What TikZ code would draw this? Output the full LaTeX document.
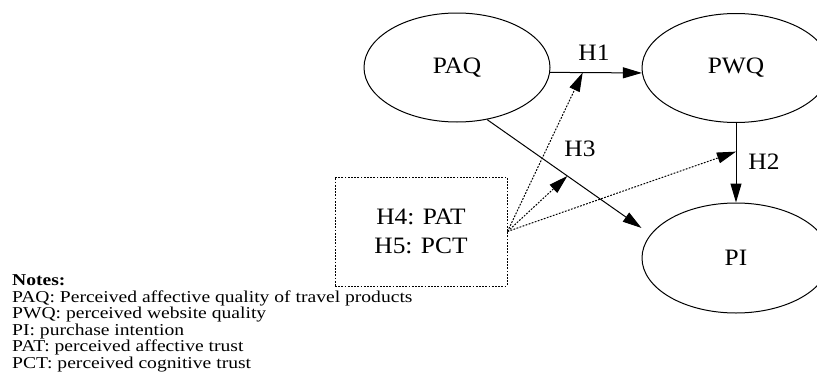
\documentclass[tikz,border=0pt]{standalone}
\usepackage{fontspec}
\setmainfont{Liberation Serif}[FakeStretch=1.08]
\newfontfamily\notesfont{Liberation Serif}[FakeStretch=1.18]
\usetikzlibrary{arrows.meta,shapes.geometric}
\tikzset{
  construct/.style={draw,ellipse,line width=1pt,minimum width=186pt,minimum height=109pt,inner sep=0pt,font=\fontsize{23.5}{23.5}\selectfont},
  modbox/.style={draw,rectangle,line width=1pt,dash pattern=on 1.8pt off 1.4pt,minimum width=172pt,minimum height=109pt,inner sep=0pt,align=center,font=\fontsize{23.5}{28.4}\selectfont},
  solidarrow/.style={line width=1pt,-{Triangle[length=19pt,width=11pt]}},
  dotarrow/.style={line width=1pt,dash pattern=on 1.8pt off 1.4pt,-{Triangle[length=19pt,width=11pt]}},
  hlabel/.style={font=\fontsize{23.5}{23.5}\selectfont,inner sep=0pt},
  notes/.style={font=\notesfont\fontsize{16.6}{16.5}\selectfont,align=left,inner sep=0pt,anchor=base west}
}
\begin{document}
\begin{tikzpicture}[x=1pt,y=-1pt]
\useasboundingbox (0,0) rectangle (817,391);
\clip (0,0) rectangle (817,391);
\node[construct] (PAQ) at (457,67.5) {PAQ};
\node[construct,minimum width=188pt] (PWQ) at (736,68) {PWQ};
\node[construct,minimum width=188pt,minimum height=110pt] (PI) at (736,258) {PI};
\node[modbox] (BOX) at (421,231.5) {H4: PAT\\H5: PCT};
% H1
\draw[solidarrow] (PAQ.-3.4) -- (PWQ.183.4) coordinate[pos=0.355] (m1);
% H2
\draw[solidarrow] (PWQ.south) -- (PI.north) coordinate[pos=0.36] (m3);
% H3
\draw[solidarrow] (PAQ.-60.4) -- ([yshift=30pt]PI.west) coordinate[pos=0.52] (m2);
% moderation
\draw[dotarrow] (BOX.east) -- (m1);
\draw[dotarrow] (BOX.east) -- (m2);
\draw[dotarrow] (BOX.east) -- (m3);
\node[hlabel] (L1) at (594,52.5) {H1};
\node[hlabel] (L2) at (764,162) {H2};
\node[hlabel] (L3) at (580,148.5) {H3};
\node[notes] (N) at (12,368.3) {\textbf{Notes:}\\
PAQ: Perceived affective quality of travel products\\
PWQ: perceived website quality\\
PI: purchase intention\\
PAT: perceived affective trust\\
PCT: perceived cognitive trust};
\end{tikzpicture}
\end{document}
